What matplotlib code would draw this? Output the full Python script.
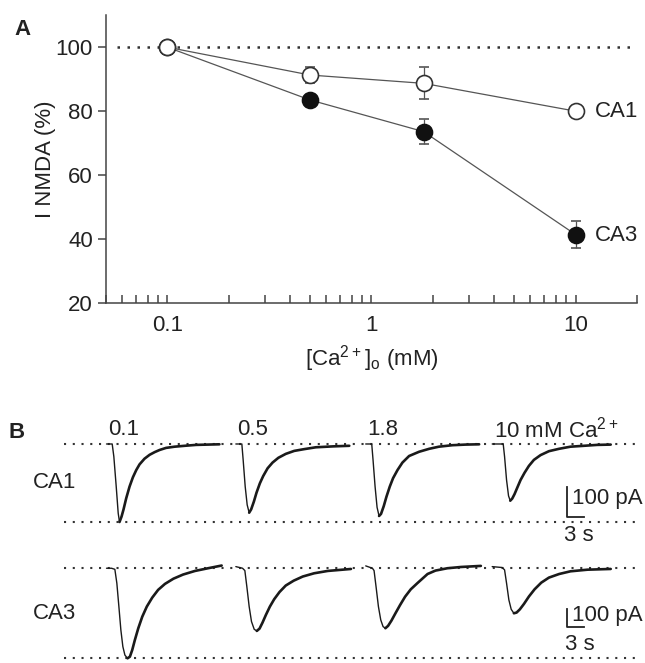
import numpy as np
import matplotlib.pyplot as plt

plt.rcParams['font.family'] = ['Liberation Sans', 'DejaVu Sans']
plt.rcParams['mathtext.default'] = 'regular'

# --- Panel A data ---
ca_conc = [0.1, 0.5, 1.8, 10]
ca1_mean = [100, 91.3, 88.7, 80.0]
ca1_err = [0, 2.5, 5.0, 1.0]
ca3_mean = [100, 83.5, 73.6, 41.4]
ca3_err = [0, 1.5, 3.9, 4.2]

# --- Panel B traces (time s from sweep start, current pA) ---
trace_labels = ['0.1', '0.5', '1.8', '10 mM Ca$^{2+}$']
trace_onsets = [7.5, 30.3, 53.2, 75.5]

ca1_t = [
    [0, 1.0, 1.29, 1.71, 2.06, 2.29, 2.65, 3.0, 3.47, 4.06, 4.65, 5.24,
     5.82, 6.7, 7.6, 8.5, 9.35, 10.5, 12.0, 13.8, 15.8, 19.9],
    [0, 1.06, 1.29, 1.65, 2.0, 2.35, 2.7, 3.18, 3.65, 4.24, 4.82, 5.6,
     6.47, 7.5, 8.8, 10.3, 12.1, 14.1, 17.1, 20.0],
    [0, 1.06, 1.29, 1.65, 2.0, 2.35, 2.7, 3.18, 3.65, 4.24, 4.82, 5.6,
     6.47, 7.65, 9.4, 11.2, 12.9, 15.3, 17.6, 20.0],
    [0, 1.94, 2.18, 2.53, 2.88, 3.18, 3.53, 3.94, 4.41, 5.0, 5.7, 6.47,
     7.35, 8.53, 10.0, 11.8, 13.8, 16.2, 18.5, 20.9],
]
ca1_i = [
    [0, 0, -42, -142, -231, -260, -242, -218, -181, -142, -111, -87,
     -68, -49, -36, -27, -20, -13, -9, -6, -3, -1],
    [0, 0, -53, -142, -203, -229, -218, -192, -162, -131, -107, -81,
     -62, -46, -33, -23, -17, -11, -8, -6],
    [0, 0, -53, -142, -211, -240, -233, -207, -176, -142, -114, -87,
     -62, -40, -26, -16, -9, -4, -2, -1],
    [0, 0, -42, -120, -173, -189, -182, -167, -146, -120, -96, -73,
     -53, -37, -24, -16, -9, -6, -3, -2],
]
ca3_t = [
    [0, 0.88, 1.47, 1.82, 2.18, 2.53, 2.88, 3.24, 3.7, 4.12, 4.53, 5.0,
     5.6, 6.3, 7.1, 8.06, 9.1, 10.3, 11.8, 13.5, 15.6, 17.9, 20.3],
    [0, 1.18, 1.59, 1.94, 2.35, 2.76, 3.24, 3.7, 4.18, 4.7, 5.3, 6.0,
     6.76, 7.7, 8.8, 10.2, 11.8, 13.8, 16.2, 20.3],
    [0, 1.18, 1.47, 1.82, 2.24, 2.65, 3.06, 3.47, 3.94, 4.53, 5.24, 6.06,
     6.94, 7.94, 9.1, 10.9, 12.3, 14.4, 16.8, 20.3],
    [0, 1.76, 2.18, 2.53, 2.94, 3.35, 3.82, 4.3, 4.88, 5.6, 6.47, 7.47,
     8.65, 10.0, 11.8, 13.8, 16.8, 20.9],
]
ca3_i = [
    [0, 0, -6, -83, -213, -343, -435, -482, -500, -491, -454, -398,
     -333, -269, -213, -163, -120, -87, -58, -35, -15, 0, 15],
    [9, 0, -13, -102, -213, -296, -339, -348, -335, -302, -259, -213,
     -172, -132, -96, -69, -46, -28, -15, -4],
    [13, 0, -13, -102, -213, -287, -324, -333, -320, -291, -250, -204,
     -158, -117, -83, -32, -13, 0, 7, 13],
    [9, 4, -9, -83, -176, -228, -250, -246, -228, -198, -157, -117,
     -80, -52, -32, -17, -8, -4],
]

TXT = '#222222'
LINE = '#555555'
FS = 16

fig = plt.figure(figsize=(6.45, 6.63), dpi=100)

# ================= Panel A =================
ax = fig.add_axes([0.1643, 0.543, 0.8233, 0.434])
ax.set_xscale('log')
ax.set_xlim(0.05, 20)
ax.set_ylim(20, 110)

ax.axhline(100, xmin=0.02, xmax=1, color='#333333', lw=1.8,
           linestyle=(0, (1, 3)), zorder=1)

ax.errorbar(ca_conc, ca1_mean, yerr=ca1_err, color=LINE, lw=0.9,
            capsize=3.5, capthick=0.9, marker='o', ms=11.5, mfc='white',
            mec='#333333', mew=1.2, zorder=3)
ax.errorbar(ca_conc, ca3_mean, yerr=ca3_err, color=LINE, lw=0.9,
            capsize=3.5, capthick=0.9, marker='o', ms=11.5, mfc='#111111',
            mec='#111111', mew=1.2, zorder=2)

ax.annotate('CA1', xy=(ca_conc[-1], ca1_mean[-1]), xytext=(14, 0),
            textcoords='offset points', va='center', fontsize=FS, color=TXT)
ax.annotate('CA3', xy=(ca_conc[-1], ca3_mean[-1]), xytext=(14, -1),
            textcoords='offset points', va='center', fontsize=FS, color=TXT)

ax.set_yticks([20, 40, 60, 80, 100])
ax.set_xticks([0.1, 1, 10])
ax.set_xticklabels(['0.1', '1', '10'])
for s in ['top', 'right']:
    ax.spines[s].set_visible(False)
for s in ['left', 'bottom']:
    ax.spines[s].set_color('#444444')
    ax.spines[s].set_linewidth(1.1)
ax.tick_params(axis='y', direction='out', length=6, width=1.1,
               color='#444444', labelsize=FS, labelcolor=TXT)
ax.tick_params(axis='x', which='both', direction='in', length=6, width=1.1,
               color='#444444', labelsize=FS, labelcolor=TXT, pad=9)
ax.set_ylabel('I NMDA (%)', fontsize=FS, color=TXT, labelpad=0)
ax.set_xlabel('[Ca$^{2+}$]$_o$ (mM)', fontsize=FS, color=TXT, labelpad=5)

fig.text(0.022, 0.955, 'A', fontsize=16, fontweight='bold', color=TXT,
         va='center')

# ================= Panel B =================
def draw_row(rect, ylim, times, currents, bar_bottom, label):
    axb = fig.add_axes(rect)
    axb.set_xlim(0, 101.2)
    axb.set_ylim(*ylim)
    axb.axis('off')
    peak = min(currents[0])
    for yl in (0, peak):
        axb.axhline(yl, color='#333333', lw=1.5, linestyle=(0, (1, 3.2)),
                    zorder=1)
    for onset, t, i in zip(trace_onsets, times, currents):
        t = np.array(t) + onset
        i = np.array(i)
        k = int(np.argmin(i))
        # thin rising phase, thicker (noisier) decay as in the recording
        axb.plot(t[:k + 1], i[:k + 1], color='#1a1a1a', lw=1.0,
                 solid_joinstyle='round', solid_capstyle='round', zorder=2)
        axb.plot(t[k:], i[k:], color='#1a1a1a', lw=1.9,
                 solid_joinstyle='round', solid_capstyle='round', zorder=2)
    # scale bar: 100 pA, 3 s
    bx = 88.7
    axb.plot([bx, bx, bx + 3], [bar_bottom + 100, bar_bottom, bar_bottom],
             color='#222222', lw=1.3, clip_on=False)
    axb.text(bx + 0.8, bar_bottom + 60, '100 pA', fontsize=FS, color=TXT,
             va='center', ha='left', clip_on=False)
    axb.text(-5.5, peak * 0.5, label, fontsize=FS, color=TXT,
             va='center', ha='left', clip_on=False)
    return axb

ax1 = draw_row([0.0992, 0.2006, 0.8899, 0.1448], (-286.7, 33.3),
               ca1_t, ca1_i, -242, 'CA1')
ax1.text(90.7, -305, '3 s', fontsize=FS, color=TXT, ha='center',
         va='center', clip_on=False)
for onset, lab in zip(trace_onsets, trace_labels):
    ax1.text(onset + 0.3, 47, lab, fontsize=FS, color=TXT, ha='left',
             va='center', clip_on=False)

ax3 = draw_row([0.0992, 0.0, 0.8899, 0.1614], (-526, 68),
               ca3_t, ca3_i, -324, 'CA3')
ax3.text(91.0, -426, '3 s', fontsize=FS, color=TXT, ha='center',
         va='center', clip_on=False)

fig.text(0.013, 0.348, 'B', fontsize=16, fontweight='bold', color=TXT,
         va='center')

fig.savefig('out.png', dpi=100)
